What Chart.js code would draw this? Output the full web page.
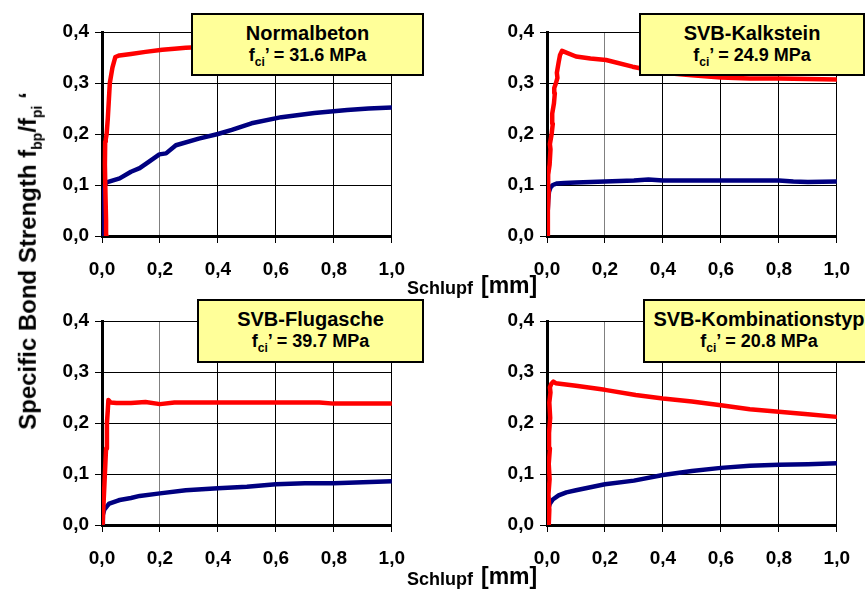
<!DOCTYPE html>
<html><head><meta charset="utf-8">
<script src="https://cdn.jsdelivr.net/npm/chart.js@4.4.1/dist/chart.umd.min.js"></script>
<style>
html,body{margin:0;padding:0;background:#fff;}
#wrap{position:relative;width:865px;height:593px;overflow:hidden;font-family:"Liberation Sans",Arial,sans-serif;color:#000;}
canvas{position:absolute;}
.box{position:absolute;background:#ffff99;border:2px solid #000;box-sizing:border-box;font-weight:bold;}
.box .l1{position:absolute;left:0;right:0;text-align:center;font-size:20px;line-height:20px;top:8px;white-space:nowrap;}
.box .l2{position:absolute;left:0;right:0;text-align:center;font-size:18px;line-height:18px;top:31px;white-space:nowrap;}
.box sub{font-size:12px;vertical-align:-5px;line-height:0;}
.ytitle sub{font-size:14px;vertical-align:-6px;line-height:0;}
.xl{position:absolute;font-weight:bold;white-space:nowrap;}
.ytitle{position:absolute;font-weight:bold;font-size:24px;line-height:24px;white-space:nowrap;transform-origin:center center;}
</style>
</head><body>
<div id="wrap"></div>
<script>
// ---- data ----
const xTicks = [0, 0.2, 0.4, 0.6, 0.8, 1.0];
const yTicks = [0, 0.1, 0.2, 0.3, 0.4];
const panelTitles = ["Normalbeton", "SVB-Kalkstein", "SVB-Flugasche", "SVB-Kombinationstyp"];
const panelFci = ["31.6", "24.9", "39.7", "20.8"];

// Panel 1: Normalbeton
const nbRedSlip  = [0.016,0.014,0.012,0.010,0.011,0.013,0.016,0.020,0.024,0.027,0.030,0.036,0.046,0.06,0.10,0.15,0.208,0.25,0.289,0.40,0.60,0.80,1.00];
const nbRedBond  = [0,0.03,0.08,0.14,0.185,0.19,0.20,0.23,0.27,0.30,0.31,0.33,0.351,0.354,0.357,0.361,0.365,0.367,0.369,0.372,0.376,0.379,0.381];
const nbBlueSlip = [0,0.002,0.004,0.006,0.010,0.016,0.027,0.061,0.10,0.13,0.16,0.198,0.221,0.255,0.334,0.40,0.448,0.516,0.619,0.733,0.846,0.92,1.00];
const nbBlueBond = [0,0.03,0.06,0.085,0.10,0.105,0.107,0.113,0.126,0.133,0.145,0.160,0.162,0.178,0.191,0.200,0.208,0.221,0.233,0.241,0.247,0.250,0.252];

// Panel 2: SVB-Kalkstein
const kaRedSlip  = [0.002,0.003,0.006,0.004,0.009,0.012,0.010,0.016,0.020,0.018,0.024,0.027,0.025,0.031,0.036,0.034,0.040,0.045,0.052,0.10,0.15,0.204,0.295,0.40,0.50,0.60,0.70,0.80,0.90,1.00];
const kaRedBond  = [0,0.05,0.09,0.12,0.14,0.17,0.18,0.20,0.22,0.24,0.26,0.28,0.29,0.30,0.31,0.32,0.34,0.355,0.363,0.352,0.348,0.345,0.332,0.320,0.315,0.311,0.309,0.309,0.308,0.307];
const kaBlueSlip = [0,0.002,0.004,0.007,0.012,0.020,0.035,0.06,0.10,0.20,0.30,0.35,0.40,0.50,0.60,0.70,0.80,0.85,0.90,1.00];
const kaBlueBond = [0,0.04,0.07,0.087,0.095,0.100,0.103,0.104,0.105,0.107,0.109,0.111,0.109,0.109,0.109,0.109,0.109,0.107,0.106,0.107];

// Panel 3: SVB-Flugasche
const fgRedSlip  = [0.002,0.006,0.010,0.014,0.017,0.020,0.022,0.030,0.05,0.10,0.15,0.20,0.25,0.30,0.50,0.70,0.75,0.80,0.90,1.00];
const fgRedBond  = [0,0.05,0.10,0.15,0.20,0.225,0.245,0.240,0.239,0.239,0.241,0.237,0.240,0.240,0.240,0.240,0.240,0.238,0.238,0.238];
const fgBlueSlip = [0,0.003,0.008,0.016,0.025,0.05,0.061,0.10,0.13,0.20,0.289,0.40,0.50,0.60,0.70,0.80,0.90,1.00];
const fgBlueBond = [0,0.02,0.03,0.036,0.042,0.047,0.049,0.053,0.057,0.062,0.068,0.072,0.075,0.080,0.082,0.082,0.084,0.086];

// Panel 4: SVB-Kombinationstyp
const kbRedSlip  = [0.006,0.008,0.005,0.009,0.006,0.010,0.007,0.011,0.008,0.012,0.010,0.015,0.022,0.030,0.10,0.20,0.306,0.40,0.50,0.60,0.70,0.80,0.90,1.00];
const kbRedBond  = [0,0.03,0.06,0.09,0.12,0.15,0.18,0.21,0.24,0.26,0.27,0.277,0.281,0.278,0.273,0.265,0.255,0.248,0.242,0.235,0.227,0.222,0.217,0.212];
const kbBlueSlip = [0,0.002,0.005,0.010,0.020,0.040,0.067,0.10,0.15,0.20,0.30,0.40,0.50,0.60,0.70,0.80,0.90,1.00];
const kbBlueBond = [0,0.02,0.033,0.042,0.050,0.058,0.064,0.068,0.074,0.080,0.087,0.098,0.106,0.112,0.116,0.118,0.119,0.121];

// ---- layout (plot-area pixel boxes) ----
const panels = [
  {area:[102,395,32,236],  red:[nbRedSlip,nbRedBond], blue:[nbBlueSlip,nbBlueBond], box:[191,13,233,63]},
  {area:[547,840,32,236],  red:[kaRedSlip,kaRedBond], blue:[kaBlueSlip,kaBlueBond], box:[639,13,226,63]},
  {area:[102,395,321,525], red:[fgRedSlip,fgRedBond], blue:[fgBlueSlip,fgBlueBond], box:[197,299,227,64]},
  {area:[547,840,321,525], red:[kbRedSlip,kbRedBond], blue:[kbBlueSlip,kbBlueBond], box:[643,299,232,64]}
];

const FONT = "'Liberation Sans', Arial, sans-serif";
Chart.defaults.font.family = FONT;
Chart.defaults.color = '#000';

const wrap = document.getElementById('wrap');
const fmt = v => Number(v).toFixed(1).replace('.', ',');
const pts = (xs, ys) => xs.map((x, i) => ({x: x, y: ys[i]}));

panels.forEach((p, idx) => {
  const [aL, aR, aT, aB] = p.area;
  const yW = 70, padT = 20, xH = 60, padR = 25;
  const cL = aL - yW, cT = aT - padT;
  const cW = aR - cL + padR, cH = aB - cT + xH;
  const cv = document.createElement('canvas');
  cv.width = cW; cv.height = cH;
  cv.style.left = cL + 'px'; cv.style.top = cT + 'px';
  cv.style.width = cW + 'px'; cv.style.height = cH + 'px';
  wrap.appendChild(cv);
  new Chart(cv.getContext('2d'), {
    type: 'scatter',
    data: {
      datasets: [
        {label: 'red', data: pts(p.red[0], p.red[1]), showLine: true, borderColor: '#ff0000', backgroundColor: '#ff0000', borderWidth: 4.5, pointRadius: 0, tension: 0, borderJoinStyle: 'round', borderCapStyle: 'round'},
        {label: 'blue', data: pts(p.blue[0], p.blue[1]), showLine: true, borderColor: '#000080', backgroundColor: '#000080', borderWidth: 4.5, pointRadius: 0, tension: 0, borderJoinStyle: 'round', borderCapStyle: 'round'}
      ]
    },
    options: {
      responsive: false, animation: false, devicePixelRatio: 1,
      layout: {padding: {left: 0, top: padT, right: padR, bottom: 0}},
      plugins: {legend: {display: false}, tooltip: {enabled: false}},
      scales: {
        x: {
          type: 'linear', min: 0, max: 1,
          afterFit: s => { s.height = xH; },
          afterBuildTicks: s => { s.ticks = xTicks.map(v => ({value: v})); },
          ticks: {callback: fmt, font: {size: 19, weight: 'bold', family: FONT}, color: '#000', padding: 15, maxRotation: 0, autoSkip: false},
          grid: {color: c => (c.tick && Math.abs(c.tick.value - 0.2) < 1e-6) ? '#808080' : '#000', lineWidth: 1, tickLength: 7, tickColor: '#000', drawTicks: true},
          border: {display: true, width: 3, color: '#000'}
        },
        y: {
          type: 'linear', min: 0, max: 0.4,
          afterFit: s => { s.width = yW; },
          afterBuildTicks: s => { s.ticks = yTicks.map(v => ({value: v})); },
          ticks: {callback: fmt, font: {size: 19, weight: 'bold', family: FONT}, color: '#000', padding: 6, autoSkip: false},
          grid: {color: '#000', lineWidth: 1, tickLength: 7, tickColor: '#000', drawTicks: true},
          border: {display: true, width: 3, color: '#000'}
        }
      }
    }
  });
  const [bx, by, bw, bh] = p.box;
  const b = document.createElement('div');
  b.className = 'box';
  b.style.left = bx + 'px'; b.style.top = by + 'px'; b.style.width = bw + 'px'; b.style.height = bh + 'px';
  b.innerHTML = '<div class="l1">' + panelTitles[idx] + '</div><div class="l2">f<sub>ci</sub>\u2019 = ' + panelFci[idx] + ' MPa</div>';
  wrap.appendChild(b);
});

// shared x-axis labels
[279, 570].forEach(t => {
  const a = document.createElement('div');
  a.className = 'xl'; a.style.left = '407px'; a.style.top = t + 'px';
  a.style.fontSize = '18px'; a.style.lineHeight = '18px';
  a.textContent = 'Schlupf';
  wrap.appendChild(a);
  const m = document.createElement('div');
  m.className = 'xl'; m.style.left = '481px'; m.style.top = (t - 5) + 'px';
  m.style.fontSize = '23px'; m.style.lineHeight = '23px';
  m.textContent = '[mm]';
  wrap.appendChild(m);
});

// shared y-axis title
const yt = document.createElement('div');
yt.className = 'ytitle';
yt.innerHTML = 'Specific Bond Strength f<sub>bp</sub>/f<sub>pi</sub> \u2018';
wrap.appendChild(yt);
const w = yt.offsetWidth, h = yt.offsetHeight;
yt.style.left = (28 - w / 2) + 'px';
yt.style.top = (261 - h / 2) + 'px';
yt.style.transform = 'rotate(-90deg)';
</script>
</body></html>
